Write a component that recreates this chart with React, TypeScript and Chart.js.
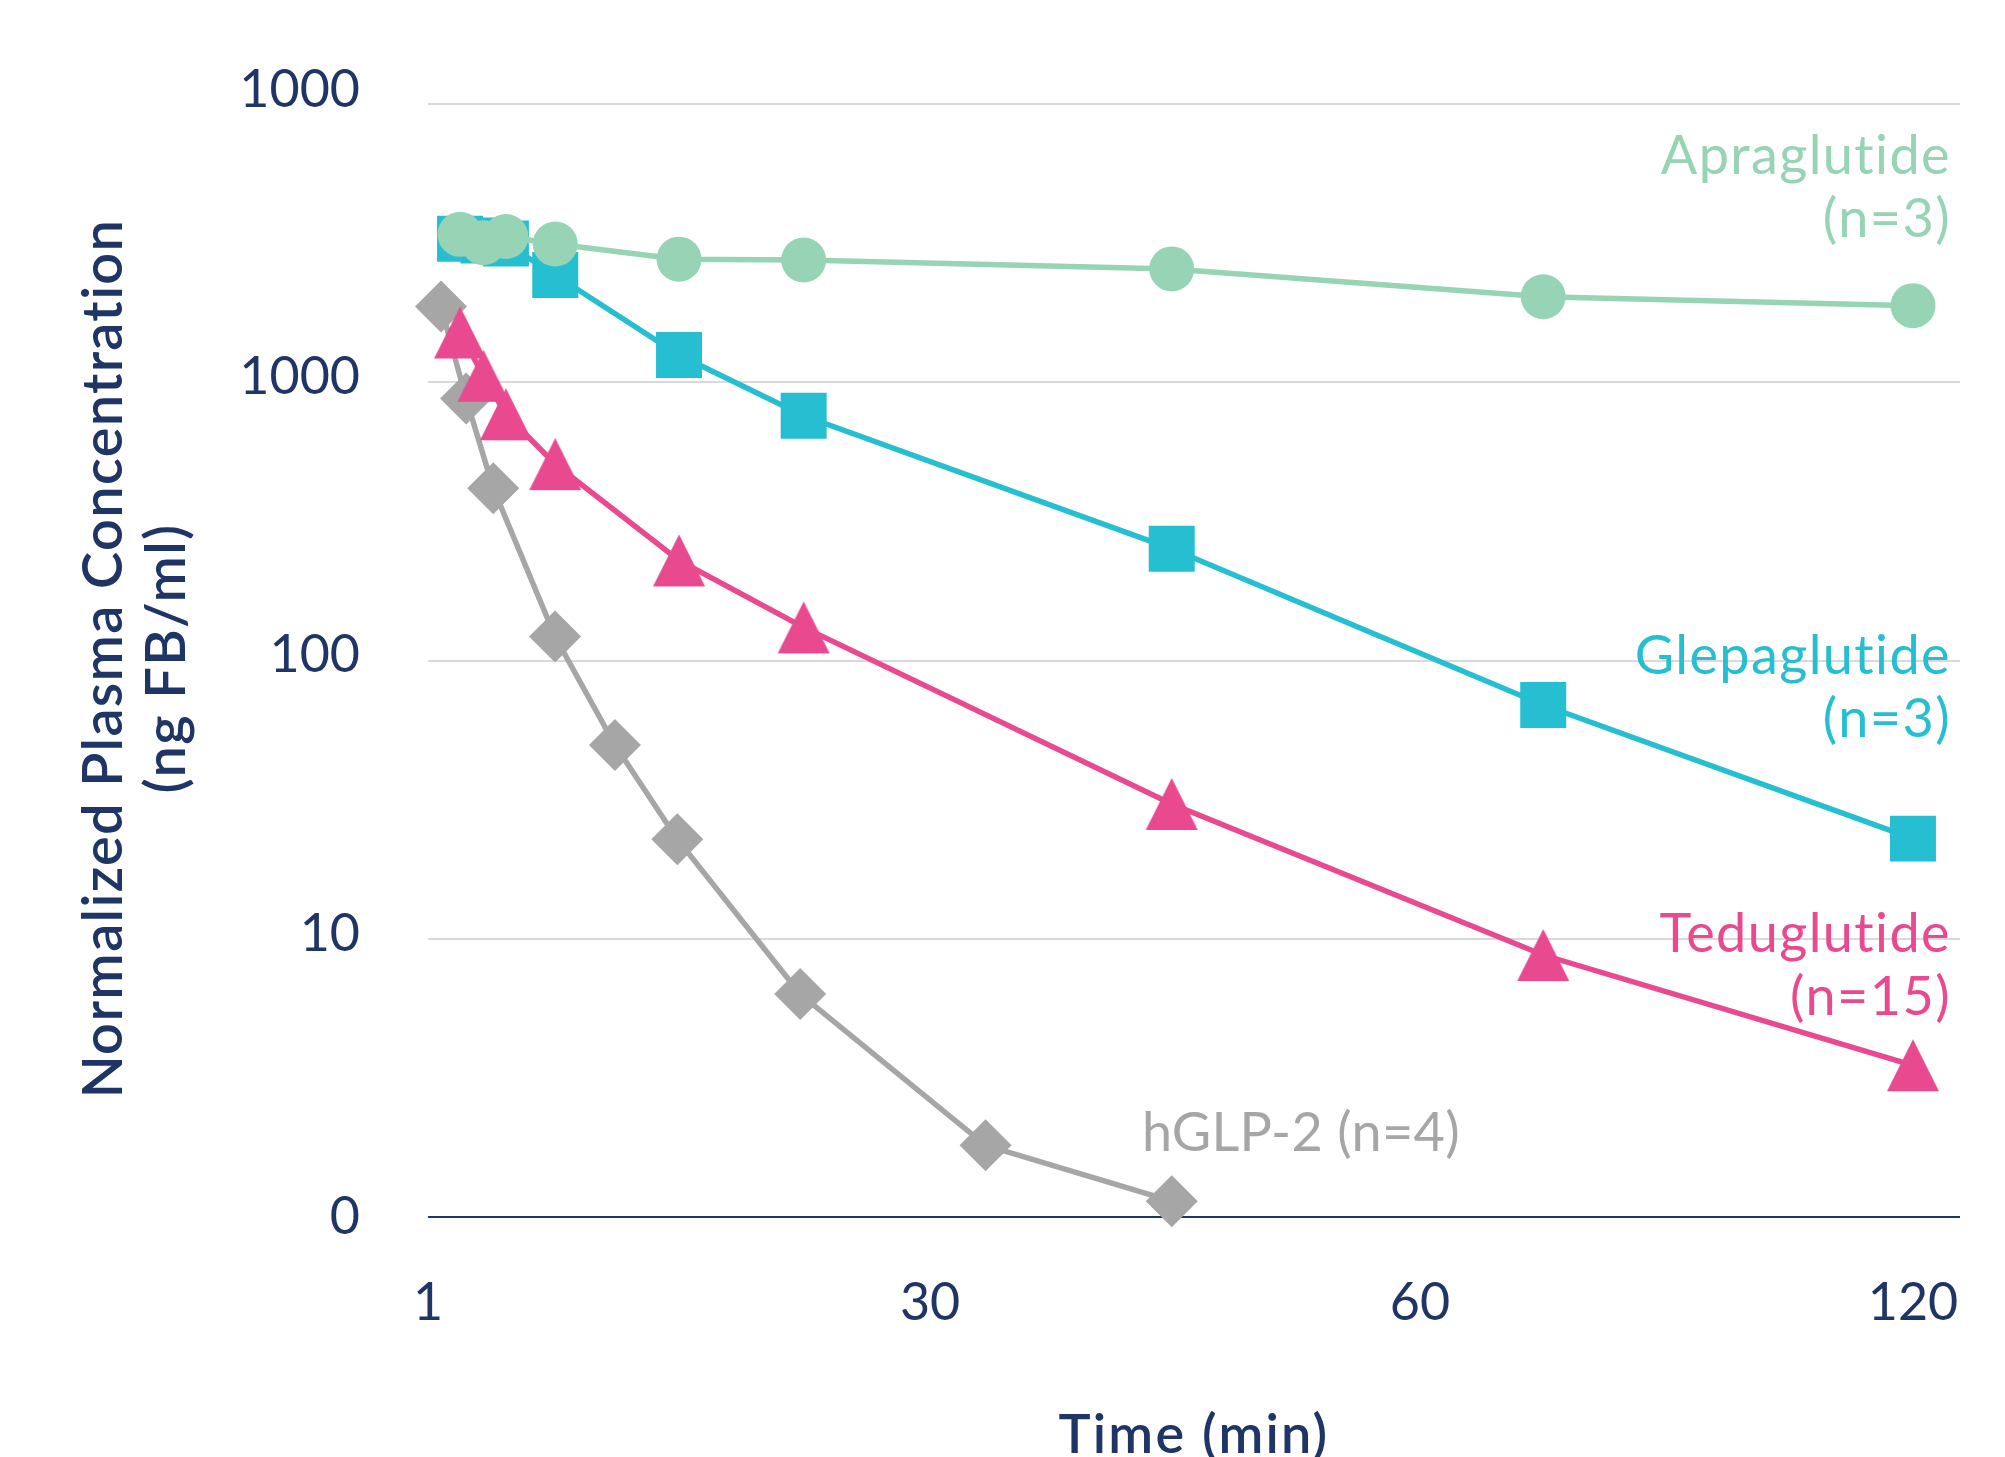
import React, { useEffect, useRef } from 'react';
import { Chart, registerables, LinearScale } from 'chart.js';

// ---------- data ----------
const seriesNames = ['Apraglutide', 'Glepaglutide', 'Teduglutide', 'hGLP-2'];
const seriesN = ['(n=3)', '(n=3)', '(n=15)', '(n=4)'];

// time points (min)
const timesMain = [2.85, 4.2, 5.5, 8.35, 15.5, 22.7, 44.8, 75, 120];
const timesHglp2 = [1.75, 3.2, 4.77, 8.34, 11.8, 15.4, 22.5, 33.4, 44.8];

// normalized plasma concentration (ng FB/ml)
const apraglutide = [3400, 3170, 3340, 3140, 2770, 2750, 2555, 2030, 1885];
const glepaglutide = [3280, 3230, 3150, 2430, 1253, 758, 252, 69.2, 22.9];
const teduglutide = [1510, 1055, 767, 508, 229, 131.5, 30.5, 8.74, 3.51];
const hglp2 = [1870, 875, 416, 122, 49.7, 22.8, 6.33, 1.81, 1.14];

const xTicks = [1, 30, 60, 120];
const xTickLabels = ['1', '30', '60', '120'];
const yTicks = [1, 10, 100, 1000, 10000];
const yTickLabels = ['0', '10', '100', '1000', '1000'];

const yTitle = ['Normalized Plasma Concentration', '(ng FB/ml)'];
const xTitle = 'Time (min)';

// ---------- style ----------
const GREEN = '#97D3B5';
const CYAN = '#26BFD2';
const PINK = '#E94A8F';
const GREY = '#A6A6A6';
const NAVY = '#1F3566';
const GRID = '#D9D9D9';
const FONT = 'Lato';

// piecewise time axis (segments between tick times)
const X_KNOTS = [1, 30, 60, 120];
const X_FRACS = [0, 0.3277, 0.6475, 0.9693];
function minutesToFrac(v: number) {
  const n = X_KNOTS.length;
  let i = 0;
  while (i < n - 2 && v > X_KNOTS[i + 1]) i++;
  const t = (v - X_KNOTS[i]) / (X_KNOTS[i + 1] - X_KNOTS[i]);
  return X_FRACS[i] + t * (X_FRACS[i + 1] - X_FRACS[i]);
}
function fracToMinutes(f: number) {
  const n = X_KNOTS.length;
  let i = 0;
  while (i < n - 2 && f > X_FRACS[i + 1]) i++;
  const t = (f - X_FRACS[i]) / (X_FRACS[i + 1] - X_FRACS[i]);
  return X_KNOTS[i] + t * (X_KNOTS[i + 1] - X_KNOTS[i]);
}
const X_MAX = fracToMinutes(1);

class PiecewiseScale extends LinearScale {
  static id = 'piecewise';
  static defaults = (LinearScale as any).defaults;
  getPixelForValue(value: number) {
    if (value === null || value === undefined || isNaN(value)) return NaN;
    return (this as any).left + minutesToFrac(value) * (this as any).width;
  }
  getValueForPixel(pixel: number) {
    return fracToMinutes((pixel - (this as any).left) / (this as any).width);
  }
}

Chart.register(...registerables, PiecewiseScale as any);

function setSpacing(ctx: CanvasRenderingContext2D, px: number) {
  if ('letterSpacing' in ctx) (ctx as any).letterSpacing = `${px}px`;
}

const textPlugin = {
  id: 'textLayer',
  afterDraw(chart: any) {
    const ctx = chart.ctx as CanvasRenderingContext2D;
    const area = chart.chartArea;
    const yScale = chart.scales.y;

    // y tick labels
    ctx.save();
    ctx.font = `400 52px ${FONT}`;
    ctx.fillStyle = NAVY;
    ctx.textAlign = 'right';
    ctx.textBaseline = 'middle';
    yTicks.forEach((v, i) => {
      const py = yScale.getPixelForValue(v);
      const shift = i === 0 ? 0 : i === yTicks.length - 1 ? -14 : -5;
      ctx.fillText(yTickLabels[i], area.left - 68, py + shift);
    });
    ctx.restore();

    // y title (rotated)
    ctx.save();
    ctx.font = `600 56px ${FONT}`;
    ctx.fillStyle = NAVY;
    setSpacing(ctx, 1.3);
    ctx.textAlign = 'center';
    ctx.textBaseline = 'alphabetic';
    const cy = (area.top + area.bottom) / 2 - 2;
    [122, 185].forEach((bx, i) => {
      ctx.save();
      ctx.translate(bx, cy);
      ctx.rotate(-Math.PI / 2);
      ctx.fillText(yTitle[i], 0, 0);
      ctx.restore();
    });
    ctx.restore();

    // x title
    ctx.save();
    ctx.font = `600 54px ${FONT}`;
    ctx.fillStyle = NAVY;
    setSpacing(ctx, 2.2);
    ctx.textAlign = 'center';
    ctx.textBaseline = 'alphabetic';
    ctx.fillText(xTitle, (area.left + area.right) / 2, 1453);
    ctx.restore();

    // series labels
    ctx.save();
    ctx.font = `400 54px ${FONT}`;
    setSpacing(ctx, 1.4);
    ctx.textBaseline = 'alphabetic';
    ctx.textAlign = 'right';
    const right = 1951;
    const blocks = [
      { i: 0, color: GREEN, y: 174 },
      { i: 1, color: CYAN, y: 674 },
      { i: 2, color: PINK, y: 952 },
    ];
    blocks.forEach((b) => {
      ctx.fillStyle = b.color;
      ctx.fillText(seriesNames[b.i], right, b.y);
      ctx.fillText(seriesN[b.i], right, b.y + 63);
    });
    ctx.textAlign = 'left';
    ctx.fillStyle = GREY;
    setSpacing(ctx, 0.3);
    ctx.fillText(`${seriesNames[3]} ${seriesN[3]}`, 1142, 1151);
    ctx.restore();
  },
};

function makeTriangle(color: string) {
  const c = document.createElement('canvas');
  c.width = 54;
  c.height = 54;
  const g = c.getContext('2d')!;
  g.fillStyle = color;
  g.beginPath();
  g.moveTo(27, 1);
  g.lineTo(53, 53);
  g.lineTo(1, 53);
  g.closePath();
  g.fill();
  return c;
}

export default function App() {
  const ref = useRef<HTMLCanvasElement | null>(null);
  useEffect(() => {
    if (!ref.current) return;
    const tri = makeTriangle(PINK);
    const mk = (times: number[], vals: number[]) => times.map((t, i) => ({ x: t, y: vals[i] }));
    const LINE_W = 5.5;
    const chart = new Chart(ref.current, {
      type: 'line',
      data: {
        datasets: [
          {
            label: seriesNames[0],
            data: mk(timesMain, apraglutide),
            borderColor: GREEN,
            backgroundColor: GREEN,
            pointBackgroundColor: GREEN,
            pointStyle: 'circle',
            pointRadius: 22.5,
            pointBorderWidth: 0,
            borderWidth: LINE_W,
            clip: false,
          },
          {
            label: seriesNames[1],
            data: mk(timesMain, glepaglutide),
            borderColor: CYAN,
            backgroundColor: CYAN,
            pointBackgroundColor: CYAN,
            pointStyle: 'rect',
            pointRadius: 32.5,
            pointBorderWidth: 0,
            borderWidth: LINE_W,
            clip: false,
          },
          {
            label: seriesNames[2],
            data: mk(timesMain, teduglutide),
            borderColor: PINK,
            backgroundColor: PINK,
            pointBackgroundColor: PINK,
            pointStyle: tri as any,
            pointRadius: 26,
            pointBorderWidth: 0,
            borderWidth: LINE_W,
            clip: false,
          },
          {
            label: seriesNames[3],
            data: mk(timesHglp2, hglp2),
            borderColor: GREY,
            backgroundColor: GREY,
            pointBackgroundColor: GREY,
            pointStyle: 'rectRot',
            pointRadius: 26,
            pointBorderWidth: 0,
            borderWidth: LINE_W,
            clip: false,
          },
        ] as any,
      },
      options: {
        responsive: false,
        animation: false,
        events: [],
        layout: { padding: { top: 104, right: 45, left: 0, bottom: 0 } },
        plugins: {
          legend: { display: false },
          tooltip: { enabled: false },
        },
        scales: {
          x: {
            type: 'piecewise' as any,
            min: 1,
            max: X_MAX,
            afterFit: (s: any) => {
              s.height = 240;
              s.paddingLeft = 0;
              s.paddingRight = 0;
            },
            afterBuildTicks: (s: any) => {
              s.ticks = xTicks.map((v) => ({ value: v }));
            },
            ticks: {
              callback: (_v: any, i: number) => xTickLabels[i],
              font: { family: FONT, size: 52, weight: '400' },
              color: NAVY,
              padding: 47,
              autoSkip: false,
              maxRotation: 0,
            },
            grid: { display: false },
            border: { display: false },
            title: { display: false },
          } as any,
          y: {
            type: 'logarithmic',
            min: 1,
            max: 10000,
            afterFit: (s: any) => {
              s.width = 428;
              s.paddingTop = 0;
              s.paddingBottom = 0;
            },
            afterBuildTicks: (s: any) => {
              s.ticks = yTicks.map((v) => ({ value: v }));
            },
            ticks: { display: false },
            grid: {
              color: (c: any) => (c.tick && c.tick.value === 1 ? NAVY : GRID),
              lineWidth: 2,
              drawTicks: false,
            },
            border: { display: false },
            title: { display: false },
          } as any,
        },
      },
      plugins: [textPlugin],
    });
    return () => chart.destroy();
  }, []);
  return (
    <canvas
      ref={ref}
      width={2005}
      height={1457}
      style={{ position: 'absolute', left: 0, top: 0, display: 'block' }}
    />
  );
}
